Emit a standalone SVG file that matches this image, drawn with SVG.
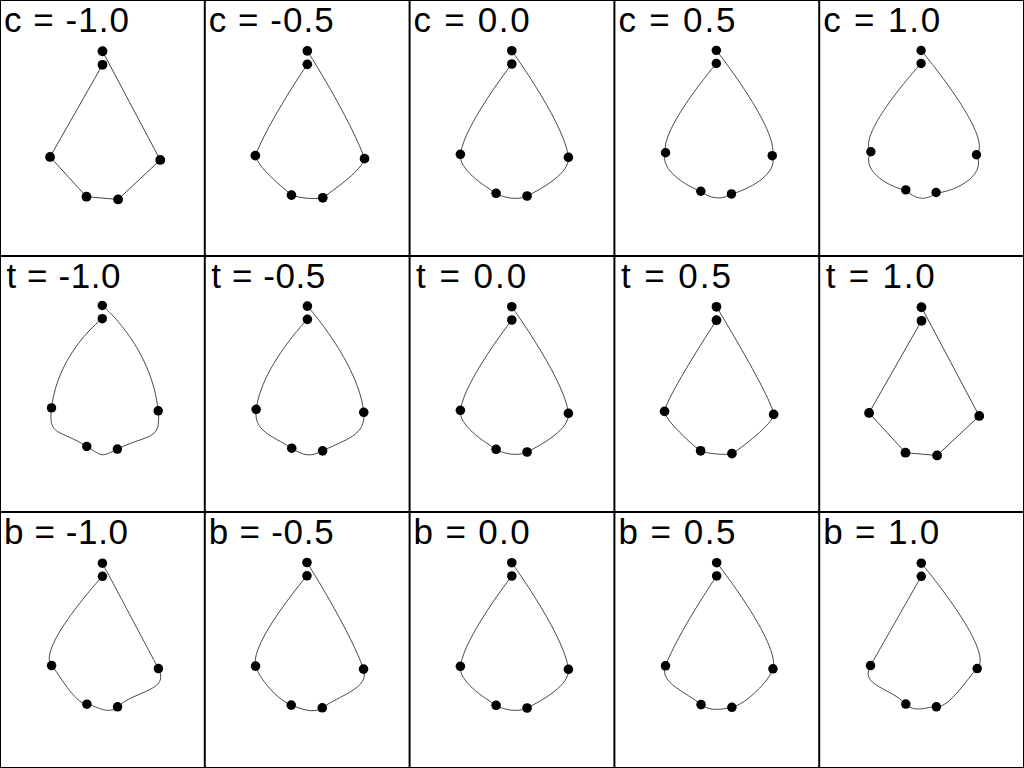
<svg xmlns="http://www.w3.org/2000/svg" xmlns:xlink="http://www.w3.org/1999/xlink" width="1024" height="768" viewBox="0 0 1024 768">
<style>
.curve{fill:none;stroke:#333;stroke-width:0.9;stroke-linejoin:round}
.lbl{font-family:"Liberation Sans",Arial,sans-serif;font-size:35px;fill:#000}
.grid{stroke:#000;stroke-width:2;fill:none}
</style>
<defs>
<g id="dots" fill="#000">
<circle cx="101.7" cy="64" r="4.8"/>
<circle cx="50.3" cy="154.3" r="4.8"/>
<circle cx="86" cy="193.3" r="4.8"/>
<circle cx="117" cy="196" r="4.8"/>
<circle cx="158.3" cy="157.3" r="4.8"/>
<circle cx="101.7" cy="50.7" r="4.8"/>
</g>
</defs>
<rect width="1024" height="768" fill="#fff"/>

<g id="panel-c-m1" transform="translate(-1.24,-0.47) scale(1.02)">
<path class="curve" d="M101.7 64L50.3 154.3L86 193.3L117 196L158.3 157.3L101.7 50.7"/>
<use href="#dots"/>
</g>
<g id="panel-c-m05" transform="translate(204.5,-0.36) scale(1.011)">
<path class="curve" d="M101.7 64C101.7 64 63.39 120.07 50.3 154.3C53.43 165.95 71.51 180.74 86 193.3C93.95 196.21 109.06 197.81 117 196C133.66 183.8 154.72 169.15 158.3 157.3C143.72 116.63 101.7 50.7 101.7 50.7"/>
<use href="#dots"/>
</g>
<g id="panel-c-0" transform="translate(410.1,0) scale(1)">
<path class="curve" d="M101.7 64C101.7 64 53.77 125.74 50.3 154.3C48.54 168.84 72 184.55 86 193.3C94.24 198.45 108.45 200.26 117 196C132.55 188.26 159.93 172.76 158.3 157.3C154.83 124.33 101.7 50.7 101.7 50.7"/>
<use href="#dots"/>
</g>
<g id="panel-c-p05" transform="translate(615.85,0.28) scale(0.988)">
<path class="curve" d="M101.7 64C101.7 64 44.15 131.4 50.3 154.3C43.64 171.72 72.5 188.36 86 193.3C94.53 200.69 107.84 202.71 117 196C131.44 192.71 165.14 176.38 158.3 157.3C165.94 132.03 101.7 50.7 101.7 50.7"/>
<use href="#dots"/>
</g>
<g id="panel-c-p1" transform="translate(821.65,0.86) scale(0.978)">
<path class="curve" d="M101.7 64C101.7 64 34.53 137.07 50.3 154.3C38.74 174.6 72.99 192.17 86 193.3C94.82 202.93 107.23 205.15 117 196C130.34 197.16 170.35 179.99 158.3 157.3C177.04 139.74 101.7 50.7 101.7 50.7"/>
<use href="#dots"/>
</g>

<g id="panel-t-m1" transform="translate(1.8,255.43) scale(0.988)">
<path class="curve" d="M101.7 64C101.7 64 57.24 97.17 50.3 154.3C46.77 183.37 58.01 175.8 86 193.3C102.48 203.6 99.9 204.51 117 196C148.1 180.51 161.56 188.23 158.3 157.3C151.36 91.36 101.7 50.7 101.7 50.7"/>
<use href="#dots"/>
</g>
<g id="panel-t-m05" transform="translate(206.07,255.64) scale(0.996)">
<path class="curve" d="M101.7 64C101.7 64 55.5 111.45 50.3 154.3C47.65 176.1 65.01 180.18 86 193.3C98.36 201.03 104.18 202.39 117 196C140.33 184.39 160.74 180.49 158.3 157.3C153.09 107.84 101.7 50.7 101.7 50.7"/>
<use href="#dots"/>
</g>
<g id="panel-t-0" transform="translate(410.1,256) scale(1)">
<path class="curve" d="M101.7 64C101.7 64 53.77 125.74 50.3 154.3C48.54 168.84 72 184.55 86 193.3C94.24 198.45 108.45 200.26 117 196C132.55 188.26 159.93 172.76 158.3 157.3C154.83 124.33 101.7 50.7 101.7 50.7"/>
<use href="#dots"/>
</g>
<g id="panel-t-p05" transform="translate(613.76,255.57) scale(1.01)">
<path class="curve" d="M101.7 64C101.7 64 52.03 140.02 50.3 154.3C49.42 161.57 79 188.93 86 193.3C90.12 195.88 112.73 198.13 117 196C124.78 192.13 159.11 165.03 158.3 157.3C156.56 140.82 101.7 50.7 101.7 50.7"/>
<use href="#dots"/>
</g>
<g id="panel-t-p1" transform="translate(817.76,255.53) scale(1.02)">
<path class="curve" d="M101.7 64L50.3 154.3L86 193.3L117 196L158.3 157.3L101.7 50.7"/>
<use href="#dots"/>
</g>

<g id="panel-b-m1" transform="translate(1.85,513) scale(0.989)">
<path class="curve" d="M101.7 64C101.7 64 34.53 137.07 50.3 154.3C58.33 163.07 72.99 192.17 86 193.3C93.66 193.97 107.23 205.15 117 196C134.77 179.35 170.35 179.99 158.3 157.3C132.61 108.92 101.7 50.7 101.7 50.7"/>
<use href="#dots"/>
</g>
<g id="panel-b-m05" transform="translate(205.25,511.8) scale(1)">
<path class="curve" d="M101.7 64C101.7 64 44.15 131.4 50.3 154.3C53.43 165.95 72.5 188.36 86 193.3C93.95 196.21 107.84 202.71 117 196C133.66 183.8 165.14 176.38 158.3 157.3C143.72 116.63 101.7 50.7 101.7 50.7"/>
<use href="#dots"/>
</g>
<g id="panel-b-0" transform="translate(410.1,512) scale(1)">
<path class="curve" d="M101.7 64C101.7 64 53.77 125.74 50.3 154.3C48.54 168.84 72 184.55 86 193.3C94.24 198.45 108.45 200.26 117 196C132.55 188.26 159.93 172.76 158.3 157.3C154.83 124.33 101.7 50.7 101.7 50.7"/>
<use href="#dots"/>
</g>
<g id="panel-b-p05" transform="translate(615.47,512.27) scale(0.995)">
<path class="curve" d="M101.7 64C101.7 64 63.39 120.07 50.3 154.3C43.64 171.72 71.51 180.74 86 193.3C94.53 200.69 109.06 197.81 117 196C131.44 192.71 154.72 169.15 158.3 157.3C165.94 132.03 101.7 50.7 101.7 50.7"/>
<use href="#dots"/>
</g>
<g id="panel-b-p1" transform="translate(820.8,513.13) scale(0.988)">
<path class="curve" d="M101.7 64C101.7 64 73.01 114.4 50.3 154.3C38.74 174.6 71.02 176.93 86 193.3C94.82 202.93 109.67 195.36 117 196C130.34 197.16 149.51 165.54 158.3 157.3C177.04 139.74 101.7 50.7 101.7 50.7"/>
<use href="#dots"/>
</g>

<g id="labels" class="lbl">
<text x="4" y="31.5" textLength="125">c = -1.0</text>
<text x="208.8" y="31.5" textLength="125">c = -0.5</text>
<text x="413.6" y="31.5" textLength="116">c = 0.0</text>
<text x="618.4" y="31.5" textLength="117">c = 0.5</text>
<text x="823.2" y="31.5" textLength="117">c = 1.0</text>
<text x="6.5" y="287.5" textLength="114">t = -1.0</text>
<text x="211.3" y="287.5" textLength="114">t = -0.5</text>
<text x="416.1" y="287.5" textLength="110">t = 0.0</text>
<text x="620.9" y="287.5" textLength="110">t = 0.5</text>
<text x="825.7" y="287.5" textLength="109">t = 1.0</text>
<text x="4" y="543.5" textLength="124">b = -1.0</text>
<text x="208.8" y="543.5" textLength="125">b = -0.5</text>
<text x="413.6" y="543.5" textLength="116">b = 0.0</text>
<text x="618.4" y="543.5" textLength="117">b = 0.5</text>
<text x="823.2" y="543.5" textLength="116">b = 1.0</text>
</g>

<g id="borders" class="grid">
<rect x="0" y="0" width="1024" height="768"/>
<line x1="204.8" y1="0" x2="204.8" y2="768"/>
<line x1="409.6" y1="0" x2="409.6" y2="768"/>
<line x1="614.4" y1="0" x2="614.4" y2="768"/>
<line x1="819.2" y1="0" x2="819.2" y2="768"/>
<line x1="0" y1="256" x2="1024" y2="256"/>
<line x1="0" y1="512" x2="1024" y2="512"/>
</g>
</svg>
